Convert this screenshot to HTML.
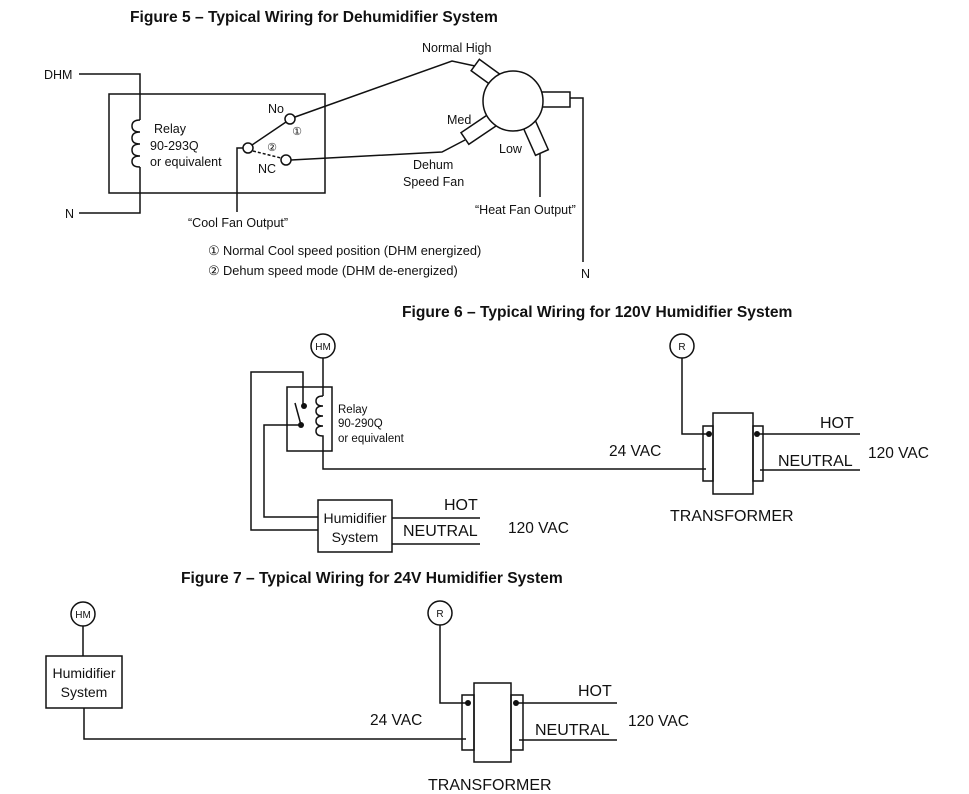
<!DOCTYPE html>
<html><head><meta charset="utf-8"><style>
html,body{margin:0;padding:0;background:#fff;}
svg{display:block;font-family:"Liberation Sans",Arial,sans-serif;}
</style></head><body>
<svg width="969" height="794" viewBox="0 0 969 794" xmlns="http://www.w3.org/2000/svg">
<g fill="none" stroke="#111" stroke-width="1.5">
<!-- Fig 5 -->
<rect x="109" y="94" width="216" height="99"/>
<polyline points="79,74 140,74 140,120"/>
<polyline points="79,213 140,213 140,167"/>
<path d="M140,120 q-8,0 -8,6 q0,6 8,6 M140,132 q-8,0 -8,6 q0,6 8,6 M140,144 q-8,0 -8,6 q0,6 8,6 M140,156 q-8,0 -8,5.5 q0,5.5 8,5.5"/>
<circle cx="290" cy="119" r="5"/>
<circle cx="286" cy="160" r="5"/>
<circle cx="248" cy="148" r="5"/>
<polyline points="243,148 237,148 237,212"/>
<line x1="252" y1="145" x2="286" y2="122"/>
<line x1="253" y1="151" x2="281" y2="158" stroke-dasharray="3,2"/>
<polyline points="295,117 452,61 475,66"/>
<polyline points="291,160 442,152 465,140"/>
<g transform="rotate(36 489 75)"><rect x="472" y="68" width="34" height="14"/></g>
<g transform="rotate(-34 479 129)"><rect x="462" y="122" width="34" height="14"/></g>
<g transform="rotate(66 535 137)"><rect x="518" y="130" width="34" height="14"/></g>
<rect x="536" y="92" width="34" height="15"/>
<circle cx="513" cy="101" r="30" fill="#fff"/>
<polyline points="570,98 583,98 583,262"/>
<line x1="540" y1="154" x2="540" y2="197"/>
<!-- Fig 6 -->
<circle cx="323" cy="346" r="12"/>
<line x1="323" y1="358" x2="323" y2="396"/>
<rect x="287" y="387" width="45" height="64"/>
<path d="M323,396 q-7,0 -7,5 q0,5 7,5 M323,406 q-7,0 -7,5 q0,5 7,5 M323,416 q-7,0 -7,5 q0,5 7,5 M323,426 q-7,0 -7,5 q0,5 7,5 L323,469 L706,469"/>
<polyline points="303,406 303,372 251,372 251,530 318,530"/>
<polyline points="301,425 264,425 264,517 318,517"/>
<line x1="301" y1="425" x2="295" y2="403"/>
<rect x="318" y="500" width="74" height="52"/>
<line x1="392" y1="518" x2="480" y2="518"/>
<line x1="392" y1="544" x2="480" y2="544"/>
<circle cx="682" cy="346" r="12"/>
<polyline points="682,358 682,434 709,434"/>
<rect x="713" y="413" width="40" height="81"/>
<rect x="703" y="426" width="10" height="55"/>
<rect x="753" y="426" width="10" height="55"/>
<line x1="757" y1="434" x2="860" y2="434"/>
<line x1="760" y1="470" x2="860" y2="470"/>
<!-- Fig 7 -->
<circle cx="83" cy="614" r="12"/>
<line x1="83" y1="626" x2="83" y2="656"/>
<rect x="46" y="656" width="76" height="52"/>
<polyline points="84,708 84,739 466,739"/>
<circle cx="440" cy="613" r="12"/>
<polyline points="440,625 440,703 468,703"/>
<rect x="474" y="683" width="37" height="79"/>
<rect x="462" y="695" width="12" height="55"/>
<rect x="511" y="695" width="12" height="55"/>
<line x1="516" y1="703" x2="617" y2="703"/>
<line x1="519" y1="740" x2="617" y2="740"/>
</g>
<g fill="#111">
<circle cx="304" cy="406" r="3"/><circle cx="301" cy="425" r="3"/>
<circle cx="709" cy="434" r="3"/><circle cx="757" cy="434" r="3"/>
<circle cx="468" cy="703" r="3"/><circle cx="516" cy="703" r="3"/>
</g>
<g fill="#111" font-size="12.5">
<text x="130" y="22" font-size="15.6" font-weight="bold">Figure 5 – Typical Wiring for Dehumidifier System</text>
<text x="44" y="79">DHM</text>
<text x="65" y="218">N</text>
<text x="154" y="133">Relay</text>
<text x="150" y="150">90-293Q</text>
<text x="150" y="166">or equivalent</text>
<text x="268" y="113">No</text>
<text x="258" y="173">NC</text>
<text x="297" y="135" font-size="11" text-anchor="middle">①</text>
<text x="272" y="151" font-size="11" text-anchor="middle">②</text>
<text x="422" y="52">Normal High</text>
<text x="447" y="124">Med</text>
<text x="499" y="153">Low</text>
<text x="413" y="169">Dehum</text>
<text x="403" y="186">Speed Fan</text>
<text x="475" y="214">“Heat Fan Output”</text>
<text x="188" y="227">“Cool Fan Output”</text>
<text x="208" y="255" font-size="12.8">① Normal Cool speed position (DHM energized)</text>
<text x="208" y="275" font-size="12.8">② Dehum speed mode (DHM de-energized)</text>
<text x="581" y="278">N</text>
<text x="402" y="317" font-size="15.6" font-weight="bold">Figure 6 – Typical Wiring for 120V Humidifier System</text>
<text x="323" y="350" font-size="10" text-anchor="middle">HM</text>
<text x="682" y="350" font-size="10" text-anchor="middle">R</text>
<text x="338" y="413" font-size="11.5">Relay</text>
<text x="338" y="427" font-size="11.5">90-290Q</text>
<text x="338" y="442" font-size="11.5">or equivalent</text>
<text x="355" y="523" font-size="14" text-anchor="middle">Humidifier</text>
<text x="355" y="542" font-size="14" text-anchor="middle">System</text>
<text x="444" y="510" font-size="16">HOT</text>
<text x="403" y="536" font-size="16">NEUTRAL</text>
<text x="508" y="533" font-size="15.5">120 VAC</text>
<text x="609" y="456" font-size="15.5">24 VAC</text>
<text x="820" y="428" font-size="16">HOT</text>
<text x="778" y="466" font-size="16">NEUTRAL</text>
<text x="868" y="458" font-size="15.5">120 VAC</text>
<text x="670" y="521" font-size="16">TRANSFORMER</text>
<text x="181" y="583" font-size="15.6" font-weight="bold">Figure 7 – Typical Wiring for 24V Humidifier System</text>
<text x="83" y="618" font-size="10" text-anchor="middle">HM</text>
<text x="440" y="617" font-size="10" text-anchor="middle">R</text>
<text x="84" y="678" font-size="14" text-anchor="middle">Humidifier</text>
<text x="84" y="697" font-size="14" text-anchor="middle">System</text>
<text x="578" y="696" font-size="16">HOT</text>
<text x="535" y="735" font-size="16">NEUTRAL</text>
<text x="628" y="726" font-size="15.5">120 VAC</text>
<text x="370" y="725" font-size="15.5">24 VAC</text>
<text x="428" y="790" font-size="16">TRANSFORMER</text>
</g>
</svg>
</body></html>
